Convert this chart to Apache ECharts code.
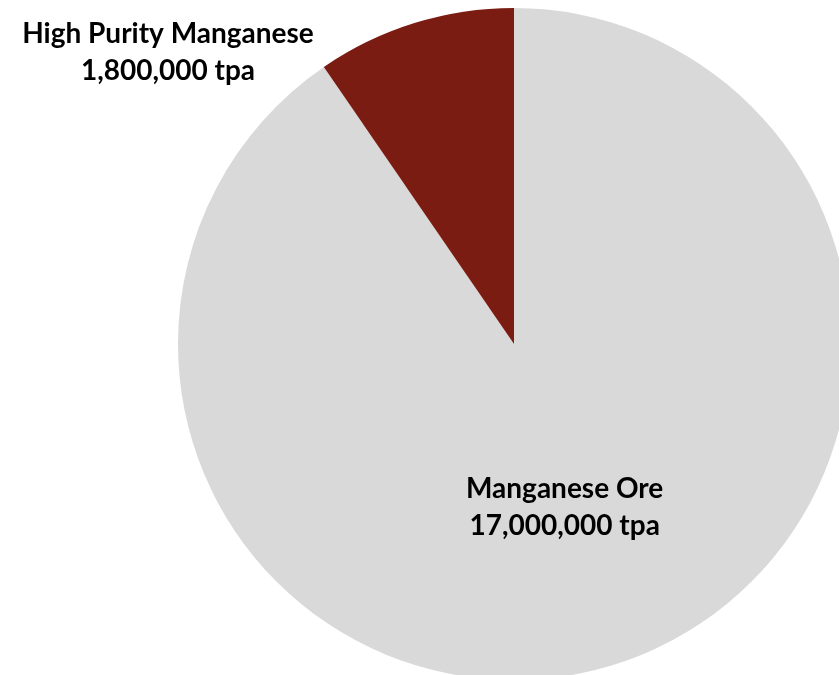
<!DOCTYPE html>
<html>
<head>
<meta charset="utf-8">
<script src="https://cdn.jsdelivr.net/npm/echarts@6/dist/echarts.min.js"></script>
<style>html,body{margin:0;padding:0;background:#fff}#c{width:839px;height:675px}</style>
</head>
<body>
<div id="c"></div>
<script>
var categories = ['Manganese Ore', 'High Purity Manganese'];
var values = [17000000, 1800000];
var colors = ['#d9d9d9', '#7b1c13'];

var chart = echarts.init(document.getElementById('c'));
function fmt(n){return n.toString().replace(/\B(?=(\d{3})+(?!\d))/g, ',');}
var data = categories.map(function(c,i){
  return {name:c, value:values[i], itemStyle:{color:colors[i]}};
});
chart.setOption({
  animation:false,
  series:[{
    type:'pie',
    center:[514,344],
    radius:[0,336],
    startAngle:90,
    clockwise:true,
    silent:true,
    data:data,
    label:{
      show:true,
      position:'inside',
      formatter:function(p){return p.name + '\n' + fmt(p.value) + ' tpa';},
      fontFamily:'Lato',
      fontWeight:'bold',
      fontSize:28,
      lineHeight:37,
      color:'#000',
      align:'center'
    },
    labelLine:{show:false},
    labelLayout:function(p){
      if(p.dataIndex===1){return {x:168,y:52,align:'center',verticalAlign:'middle'};}
      return {};
    }
  }]
});
</script>
</body>
</html>
